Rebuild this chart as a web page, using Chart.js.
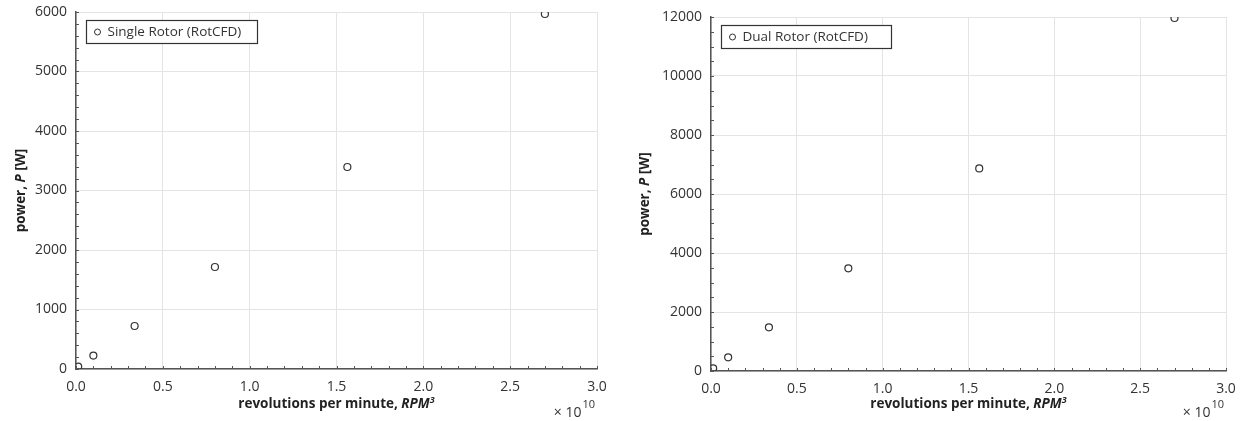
<!DOCTYPE html>
<html>
	<head>
		<title>RotCFD power vs RPM cubed</title>
		<style>
body {
	margin: 0;
	background-color: #ffffff;
}
.panel {
	position: absolute;
	top: 0;
	width: 624px;
	height: 421px;
}
#left { left: 0; }
#right { left: 624px; }
		</style>
	</head>
	<body>
		<div class="panel" id="left"><canvas id="singleChart" width="624" height="421"></canvas></div>
		<div class="panel" id="right"><canvas id="dualChart" width="624" height="421"></canvas></div>

		<script src="https://cdn.jsdelivr.net/npm/chart.js"></script>
		<script>
			// RPM^3 in units of 1e10
			const rpmCubed = [0.0125, 0.1, 0.3375, 0.8, 1.5625, 2.7];
			// power [W]
			const singlePower = [40, 225, 723, 1714, 3395, 5966];
			const dualPower = [92, 464, 1481, 3480, 6866, 11966];
			const xTicks = [0, 0.5, 1.0, 1.5, 2.0, 2.5, 3.0];
			const singleYTicks = [0, 1000, 2000, 3000, 4000, 5000, 6000];
			const dualYTicks = [0, 2000, 4000, 6000, 8000, 10000, 12000];

			const FONT = "'Open Sans', 'Noto Sans', sans-serif";
			const TEXT = '#333333';

			// minor ticks, boxed legend, mixed style axis titles, x10^10 note
			const decor = {
				id: 'decor',
				afterDraw(chart, args, opts) {
					const ctx = chart.ctx;
					const a = chart.chartArea;
					const x = chart.scales.x;
					const y = chart.scales.y;
					ctx.save();

					// minor ticks pointing inward
					ctx.strokeStyle = '#555555';
					ctx.lineWidth = 1;
					ctx.beginPath();
					for (let i = 0; i <= 30; i++) {
						const px = Math.round(x.getPixelForValue(i / 10)) + 0.5;
						ctx.moveTo(px, a.bottom);
						ctx.lineTo(px, a.bottom - 3);
					}
					const n = Math.round(y.max / opts.yMinor);
					for (let i = 0; i <= n; i++) {
						const py = Math.round(y.getPixelForValue(i * opts.yMinor)) + 0.5;
						ctx.moveTo(a.left, py);
						ctx.lineTo(a.left + 3, py);
					}
					ctx.stroke();

					// legend box
					const lx = a.left + 10.5, ly = a.top + 8.5;
					ctx.fillStyle = '#ffffff';
					ctx.fillRect(lx, ly, opts.legendWidth, 23);
					ctx.strokeStyle = '#333333';
					ctx.lineWidth = 1.2;
					ctx.strokeRect(lx, ly, opts.legendWidth, 23);
					ctx.lineWidth = 1;
					ctx.beginPath();
					ctx.arc(lx + 11, ly + 11.5, 3, 0, Math.PI * 2);
					ctx.stroke();
					ctx.fillStyle = TEXT;
					ctx.font = '13.5px ' + FONT;
					ctx.textBaseline = 'middle';
					ctx.textAlign = 'left';
					ctx.fillText(chart.data.datasets[0].label, lx + 21, ly + 12);

					// x axis title
					ctx.fillStyle = '#222222';
					ctx.textBaseline = 'alphabetic';
					const bold = 'bold 13.5px ' + FONT;
					const boldIt = 'italic bold 13.5px ' + FONT;
					const sup = 'italic bold 9px ' + FONT;
					const part1 = 'revolutions per minute, ';
					ctx.font = bold; const w1 = ctx.measureText(part1).width;
					ctx.font = boldIt; const w2 = ctx.measureText('RPM').width;
					ctx.font = sup; const w3 = ctx.measureText('3').width;
					let tx = (a.left + a.right) / 2 - (w1 + w2 + w3) / 2;
					const ty = 408;
					ctx.font = bold; ctx.fillText(part1, tx, ty); tx += w1;
					ctx.font = boldIt; ctx.fillText('RPM', tx, ty); tx += w2;
					ctx.font = sup; ctx.fillText('3', tx, ty - 5);

					// y axis title
					ctx.save();
					ctx.translate(opts.yTitleX, (a.top + a.bottom) / 2);
					ctx.rotate(-Math.PI / 2);
					ctx.textBaseline = 'middle';
					const p1 = 'power, ', p2 = 'P', p3 = ' [W]';
					ctx.font = bold; const v1 = ctx.measureText(p1).width;
					ctx.font = boldIt; const v2 = ctx.measureText(p2).width;
					ctx.font = bold; const v3 = ctx.measureText(p3).width;
					let sx = -(v1 + v2 + v3) / 2;
					ctx.font = bold; ctx.fillText(p1, sx, 0); sx += v1;
					ctx.font = boldIt; ctx.fillText(p2, sx, 0); sx += v2;
					ctx.font = bold; ctx.fillText(p3, sx, 0);
					ctx.restore();

					// x10^10 multiplier
					ctx.fillStyle = TEXT;
					ctx.textBaseline = 'alphabetic';
					ctx.font = '11px ' + FONT;
					const e = '10';
					const we = ctx.measureText(e).width;
					ctx.font = '14px ' + FONT;
					const base = '\u00d7 10';
					const wb = ctx.measureText(base).width;
					const ex = a.right - 2 - we;
					ctx.fillText(base, ex - wb - 1, 417);
					ctx.font = '11px ' + FONT;
					ctx.fillText(e, ex, 408);

					ctx.restore();
				}
			};

			function makeChart(id, label, power, yTicks, yMinor, box) {
				const ctx = document.getElementById(id).getContext('2d');
				const yMax = yTicks[yTicks.length - 1];
				return new Chart(ctx, {
					type: 'scatter',
					data: {
						datasets: [{
							label: label,
							data: rpmCubed.map((v, i) => ({ x: v, y: power[i] })),
							pointStyle: 'circle',
							pointRadius: 3.5,
							pointHoverRadius: 3.5,
							pointBackgroundColor: 'rgba(255,255,255,0)',
							pointBorderColor: '#333333',
							pointBorderWidth: 1.2
						}]
					},
					options: {
						responsive: false,
						animation: false,
						devicePixelRatio: 1,
						layout: {
							padding: { top: box.top, right: 624 - box.right, left: 0, bottom: 0 }
						},
						plugins: {
							legend: { display: false },
							tooltip: { enabled: false },
							decor: { yMinor: yMinor, legendWidth: box.legendWidth, yTitleX: box.yTitleX }
						},
						scales: {
							x: {
								type: 'linear',
								min: 0,
								max: 3,
								afterBuildTicks: s => { s.ticks = xTicks.map(v => ({ value: v })); },
								afterFit: s => {
									s.height = 421 - box.bottom;
									s.paddingLeft = 0;
									s.paddingRight = 0;
								},
								ticks: {
									color: TEXT,
									font: { family: FONT, size: 14 },
									padding: 10,
									callback: v => v.toFixed(1)
								},
								grid: { color: '#e4e4e4', lineWidth: 1, drawTicks: false },
								border: { color: '#555555', width: 1.5 }
							},
							y: {
								min: 0,
								max: yMax,
								afterBuildTicks: s => { s.ticks = yTicks.map(v => ({ value: v })); },
								afterFit: s => {
									s.width = box.left;
									s.paddingTop = 0;
									s.paddingBottom = 0;
								},
								ticks: {
									color: TEXT,
									font: { family: FONT, size: 14 },
									padding: 9,
									callback: v => String(v)
								},
								grid: { color: '#e4e4e4', lineWidth: 1, drawTicks: false },
								border: { color: '#555555', width: 1.5 }
							}
						}
					},
					plugins: [decor]
				});
			}

			makeChart('singleChart', 'Single Rotor (RotCFD)', singlePower, singleYTicks, 200,
				{ left: 76, right: 597, top: 12, bottom: 369, legendWidth: 171, yTitleX: 21 });
			makeChart('dualChart', 'Dual Rotor (RotCFD)', dualPower, dualYTicks, 500,
				{ left: 87, right: 602, top: 17, bottom: 371, legendWidth: 170, yTitleX: 21 });
		</script>
	</body>
</html>
